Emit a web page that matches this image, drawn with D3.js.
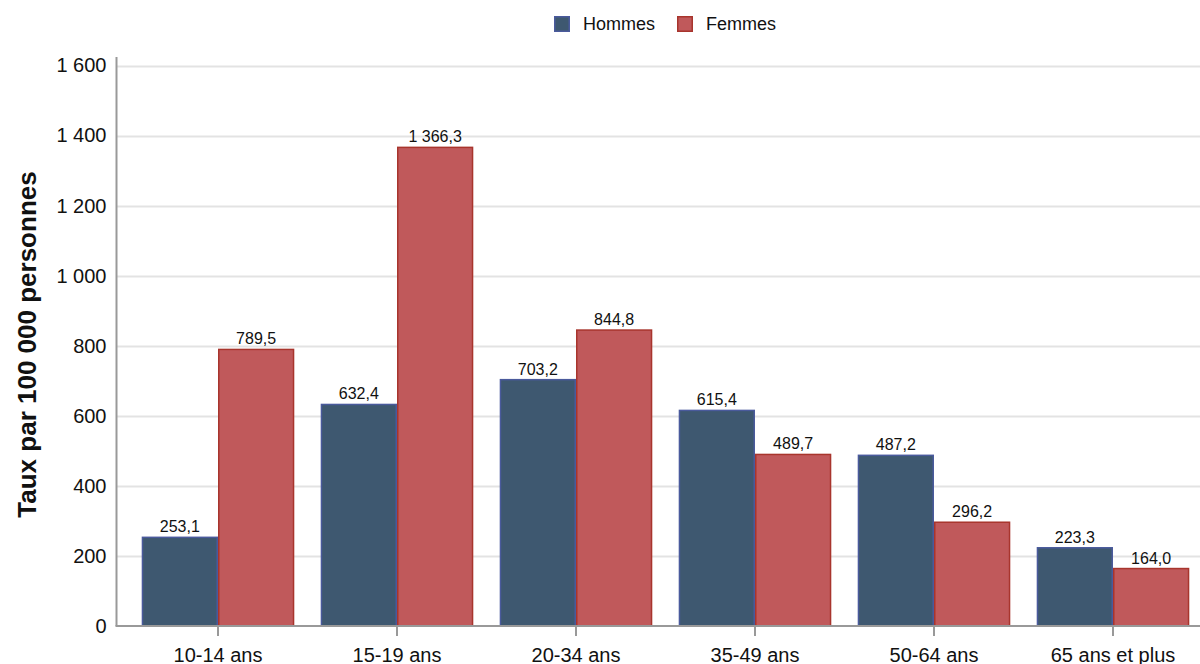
<!DOCTYPE html>
<html lang="fr">
<head>
<meta charset="utf-8">
<script src="https://cdn.jsdelivr.net/npm/d3@7"></script>
<style>
  html, body { margin: 0; padding: 0; background: #fff; }
  svg { display: block; font-family: "Liberation Sans", Arial, sans-serif; }
</style>
</head>
<body>
<svg id="chart" width="1200" height="664"></svg>
<script>
// Taux par 100 000 personnes, selon le groupe d'âge et le sexe
const categories = ["10-14 ans", "15-19 ans", "20-34 ans", "35-49 ans", "50-64 ans", "65 ans et plus"];
const hommes = [253.1, 632.4, 703.2, 615.4, 487.2, 223.3];
const femmes = [789.5, 1366.3, 844.8, 489.7, 296.2, 164.0];
const yTicks = [0, 200, 400, 600, 800, 1000, 1200, 1400, 1600];
const seriesNames = ["Hommes", "Femmes"];
const yTitle = "Taux par 100 000 personnes";

const series = [
  { name: seriesNames[0], values: hommes, fill: "#3e5870", stroke: "#4a5a9c" },
  { name: seriesNames[1], values: femmes, fill: "#c0595b", stroke: "#a8352d" }
];

const fr = d3.formatLocale({ decimal: ",", thousands: "\u00a0", grouping: [3], currency: ["", " $"] });
const fmtTick = fr.format(",d");
const fmtVal = fr.format(",.1f");

const svg = d3.select("#chart");
const W = 1200;
const axisX = 116.5, axisBottom = 626, axisTop = 57;

const x = d3.scaleBand()
  .domain(categories)
  .range([128.5, 1202.5])
  .paddingInner(0.1475)
  .paddingOuter(0.07375);

const xs = d3.scaleBand()
  .domain(seriesNames)
  .range([0, x.bandwidth()]);

const y = d3.scaleLinear()
  .domain([0, 1600])
  .range([axisBottom, 65.5]);

// gridlines
svg.append("g")
  .selectAll("line")
  .data(yTicks.filter(d => d > 0))
  .join("line")
  .attr("x1", axisX).attr("x2", W)
  .attr("y1", d => Math.round(y(d)) + 0.5).attr("y2", d => Math.round(y(d)) + 0.5)
  .attr("stroke", "#e3e3e3")
  .attr("stroke-width", 2);

// bars
const groups = svg.append("g")
  .selectAll("g")
  .data(categories)
  .join("g")
  .attr("transform", d => `translate(${x(d)},0)`);

groups.selectAll("rect")
  .data((c, i) => series.map(s => ({ s, v: s.values[i] })))
  .join("rect")
  .attr("x", d => xs(d.s.name) + 0.75)
  .attr("width", xs.bandwidth() - 1.5)
  .attr("y", d => y(d.v))
  .attr("height", d => y(0) - y(d.v))
  .attr("fill", d => d.s.fill)
  .attr("stroke", d => d.s.stroke)
  .attr("stroke-width", 1.5);

groups.selectAll("text")
  .data((c, i) => series.map(s => ({ s, v: s.values[i] })))
  .join("text")
  .attr("x", d => xs(d.s.name) + xs.bandwidth() / 2)
  .attr("y", d => y(d.v) - 5)
  .attr("text-anchor", "middle")
  .attr("font-size", 16)
  .attr("fill", "#111")
  .text(d => fmtVal(d.v));

// y axis
const yAxis = svg.append("g")
  .attr("transform", `translate(${axisX},0)`)
  .call(d3.axisLeft(y).tickValues(yTicks).tickSize(0).tickPadding(10).tickFormat(fmtTick));
yAxis.select(".domain").remove();
yAxis.selectAll("text").attr("font-size", 20).attr("fill", "#111").attr("font-family", null);
svg.append("line")
  .attr("x1", axisX).attr("x2", axisX)
  .attr("y1", axisTop).attr("y2", axisBottom)
  .attr("stroke", "#999").attr("stroke-width", 2);

// x axis
const xAxis = svg.append("g")
  .attr("transform", `translate(0,${axisBottom})`)
  .call(d3.axisBottom(x).tickSize(10).tickPadding(12));
xAxis.select(".domain").remove();
xAxis.selectAll(".tick line").attr("stroke", "#999").attr("stroke-width", 2);
xAxis.selectAll("text").attr("font-size", 20).attr("fill", "#111").attr("font-family", null);
svg.append("line")
  .attr("x1", axisX - 1).attr("x2", W)
  .attr("y1", axisBottom).attr("y2", axisBottom)
  .attr("stroke", "#999").attr("stroke-width", 2);

// y axis title
svg.append("text")
  .attr("transform", `translate(36,${(axisTop + axisBottom) / 2 + 3}) rotate(-90)`)
  .attr("text-anchor", "middle")
  .attr("font-size", 26)
  .attr("font-weight", "bold")
  .attr("fill", "#111")
  .text(yTitle);

// legend
const legendPos = [554, 677];
const legend = svg.append("g")
  .selectAll("g")
  .data(series)
  .join("g")
  .attr("transform", (d, i) => `translate(${legendPos[i]},16)`);
legend.append("rect")
  .attr("x", 0.75).attr("y", 0.75)
  .attr("width", 14.5).attr("height", 14.5)
  .attr("fill", d => d.fill)
  .attr("stroke", d => d.stroke)
  .attr("stroke-width", 1.5);
legend.append("text")
  .attr("x", 29).attr("y", 8)
  .attr("dy", "0.35em")
  .attr("font-size", 18)
  .attr("fill", "#111")
  .text(d => d.name);
</script>
</body>
</html>
